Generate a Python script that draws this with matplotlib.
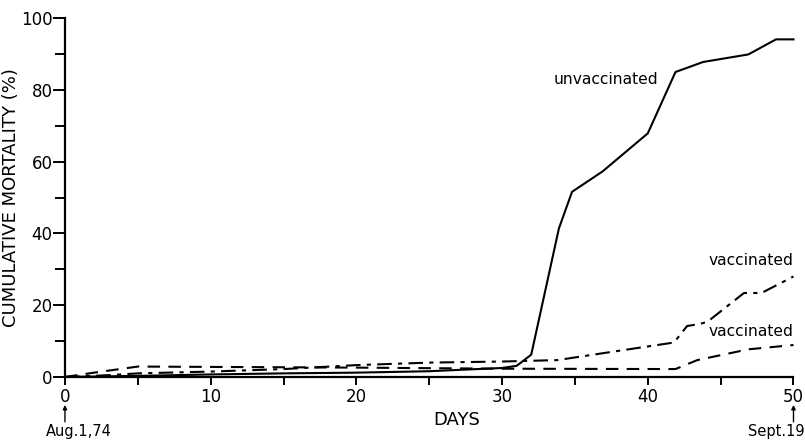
import matplotlib
matplotlib.use("Agg")
import matplotlib.pyplot as plt
from matplotlib.ticker import MultipleLocator

# Data
unvac_days = [0, 5, 10, 15, 20, 25, 30, 31, 32, 33.9, 34.8, 36.9, 40, 41.9, 43.8, 46.9, 48.8, 50]
unvac_mort = [0, 0.3, 0.7, 1.0, 1.2, 1.6, 2.5, 3.1, 6.2, 41.4, 51.6, 57.3, 67.9, 85.0, 87.8, 89.9, 94.1, 94.1]

vac_dd_days = [0, 3, 5, 10, 15, 20, 25, 30, 33.8, 37.7, 41.8, 42.7, 43.6, 44.1, 46.6, 47.8, 50]
vac_dd_mort = [0, 0.5, 1.0, 1.5, 2.2, 3.3, 4.0, 4.3, 4.7, 7.1, 9.6, 14.2, 14.8, 15.4, 23.4, 23.4, 28.0]

vac_da_days = [0, 2, 5, 10, 20, 30, 41.9, 43.4, 46.9, 50]
vac_da_mort = [0, 1.2, 2.9, 2.8, 2.6, 2.3, 2.2, 4.7, 7.7, 8.9]

x_ticks = [0, 10, 20, 30, 40, 50]
y_ticks = [0, 20, 40, 60, 80, 100]

plt.rcParams['font.family'] = ['DejaVu Sans']

fig = plt.figure(figsize=(8.05, 4.44), dpi=100)
ax = fig.add_axes([0.0807, 0.151, 0.905, 0.808])

lw = 1.5
ax.plot(unvac_days, unvac_mort, color='black', lw=lw, clip_on=False)
ax.plot(vac_dd_days, vac_dd_mort, color='black', lw=lw, dashes=(7, 3, 2, 3), clip_on=False)
ax.plot(vac_da_days, vac_da_mort, color='black', lw=lw, dashes=(6, 4), clip_on=False)

ax.set_xlim(0, 50)
ax.set_ylim(0, 100)
ax.set_xticks(x_ticks)
ax.set_yticks(y_ticks)
ax.xaxis.set_minor_locator(MultipleLocator(5))
ax.yaxis.set_minor_locator(MultipleLocator(10))
for s in ['top', 'right']:
    ax.spines[s].set_visible(False)
for s in ['left', 'bottom']:
    ax.spines[s].set_linewidth(1.6)
ax.tick_params(axis='y', which='major', direction='out', length=8.5, width=1.4, labelsize=12, pad=0.5)
ax.tick_params(axis='y', which='minor', direction='out', length=7, width=1.4)
ax.tick_params(axis='x', which='major', direction='out', length=6, width=1.4, labelsize=12, pad=2)
ax.tick_params(axis='x', which='minor', direction='out', length=6, width=1.4)

ax.set_xlabel('DAYS', fontsize=13)
ax.xaxis.set_label_coords(0.538, -0.095)
ax.set_ylabel('CUMULATIVE MORTALITY (%)', fontsize=13)
ax.yaxis.set_label_coords(-0.062, 0.5)

ax.text(40.7, 83, 'unvaccinated', fontsize=11.2, ha='right', va='center')
ax.text(50, 32.6, 'vaccinated', fontsize=11.2, ha='right', va='center')
ax.text(50, 12.8, 'vaccinated', fontsize=11.2, ha='right', va='center')

# date annotations under the axis ends
for xd, xt, ha, lab in [(0, 0.96, 'center', 'Aug.1,74'), (50, 50.75, 'right', 'Sept.19')]:
    ax.annotate('', xy=(xd, -7.8), xycoords='data', xytext=(xd, -12.5),
                textcoords='data', annotation_clip=False,
                arrowprops=dict(arrowstyle='-|>', color='black', lw=1.0,
                                mutation_scale=6, shrinkA=0, shrinkB=0))
    ax.text(xt, -13.2, lab, fontsize=10.5, ha=ha, va='top', clip_on=False)

fig.savefig('out.png', dpi=100)
